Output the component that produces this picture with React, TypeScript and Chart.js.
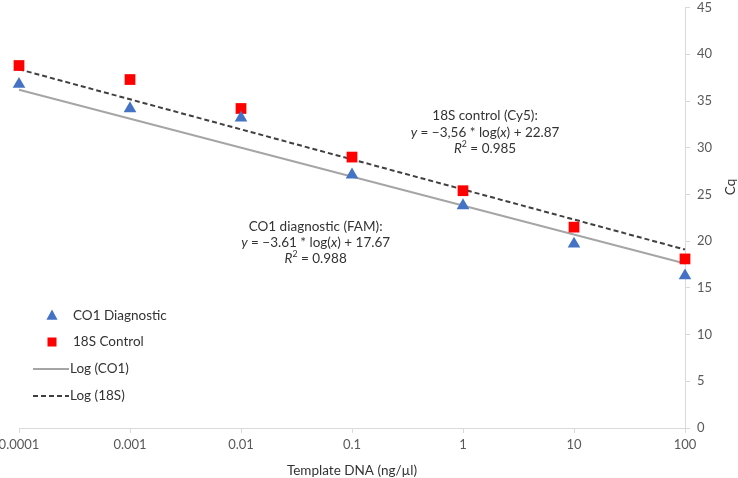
import React, { useEffect, useRef } from "react";
import { Chart, registerables } from "chart.js";

Chart.register(...registerables);

// ---- data ----
const concentrations = [0.0001, 0.001, 0.01, 0.1, 1, 10, 100];
const co1Cq = [36.8, 34.2, 33.2, 27.1, 23.8, 19.7, 16.3];
const s18Cq = [38.8, 37.3, 34.2, 29.0, 25.4, 21.5, 18.1];
const trendX = [0.0001, 100];
const co1Trend = [36.2, 17.6];
const s18Trend = [38.4, 19.1];
const xTickValues = [0.0001, 0.001, 0.01, 0.1, 1, 10, 100];
const xTickLabels = ["0.0001", "0.001", "0.01", "0.1", "1", "10", "100"];
const seriesNames = ["CO1 Diagnostic", "18S Control", "Log (CO1)", "Log (18S)"];

const annot18S = {
  title: "18S control (Cy5):",
  slope: "\u22123,56",
  intercept: "22.87",
  r2: "0.985",
};
const annotCO1 = {
  title: "CO1 diagnostic (FAM):",
  slope: "\u22123.61",
  intercept: "17.67",
  r2: "0.988",
};

const FONT = "Lato, 'Open Sans', sans-serif";
const TEXT = "#333333";
const TICK = "#595959";
const AXIS = "#d9d9d9";

type Seg = { t: string; italic?: boolean; sup?: boolean };

function drawRich(ctx: CanvasRenderingContext2D, segs: Seg[], cx: number, cy: number, size: number) {
  const fontFor = (s: Seg) =>
    `${s.italic ? "italic " : ""}${s.sup ? size * 0.65 : size}px ${FONT}`;
  let total = 0;
  segs.forEach((s) => {
    ctx.font = fontFor(s);
    total += ctx.measureText(s.t).width;
  });
  let x = cx - total / 2;
  ctx.textBaseline = "middle";
  ctx.textAlign = "left";
  segs.forEach((s) => {
    ctx.font = fontFor(s);
    ctx.fillText(s.t, x, s.sup ? cy - size * 0.35 : cy);
    x += ctx.measureText(s.t).width;
  });
}

function drawAnnotation(ctx: CanvasRenderingContext2D, a: typeof annot18S, cx: number, cy: number) {
  const size = 13.5;
  const lh = 16.3;
  ctx.fillStyle = TEXT;
  drawRich(ctx, [{ t: a.title }], cx, cy, size);
  drawRich(
    ctx,
    [
      { t: "y", italic: true },
      { t: ` = ${a.slope} * log(` },
      { t: "x", italic: true },
      { t: `) + ${a.intercept}` },
    ],
    cx,
    cy + lh,
    size
  );
  drawRich(
    ctx,
    [{ t: "R", italic: true }, { t: "2", sup: true }, { t: ` = ${a.r2}` }],
    cx,
    cy + 2 * lh,
    size
  );
}

const overlayPlugin = {
  id: "overlay",
  afterDraw(chart: any) {
    const ctx: CanvasRenderingContext2D = chart.ctx;
    const xs = chart.scales.x;
    const ys = chart.scales.y;
    ctx.save();
    // annotations anchored in data space
    drawAnnotation(ctx, annot18S, xs.getPixelForValue(1.58), ys.getPixelForValue(33.4));
    drawAnnotation(ctx, annotCO1, xs.getPixelForValue(0.047), ys.getPixelForValue(21.6));

    // legend
    const ds = chart.data.datasets;
    const lx = 52;
    const textX = 73;
    const rows = [316, 342, 369, 396];
    ctx.font = `13.5px ${FONT}`;
    ctx.textBaseline = "middle";
    ctx.textAlign = "left";
    rows.forEach((ry, i) => {
      const d = ds[i];
      if (i === 0) {
        const r = 6.4;
        ctx.fillStyle = d.backgroundColor;
        ctx.beginPath();
        ctx.moveTo(lx, ry - r);
        ctx.lineTo(lx + r * 0.87, ry + r * 0.6);
        ctx.lineTo(lx - r * 0.87, ry + r * 0.6);
        ctx.closePath();
        ctx.fill();
      } else if (i === 1) {
        ctx.fillStyle = d.backgroundColor;
        ctx.fillRect(lx - 4.5, ry - 4.5, 9, 9);
      } else {
        ctx.strokeStyle = d.borderColor;
        ctx.lineWidth = d.borderWidth;
        ctx.setLineDash(d.borderDash || []);
        ctx.beginPath();
        ctx.moveTo(33, ry);
        ctx.lineTo(69, ry);
        ctx.stroke();
        ctx.setLineDash([]);
      }
      ctx.fillStyle = TEXT;
      ctx.fillText(d.label, i >= 2 ? 70 : textX, ry);
    });

    // right axis title
    ctx.save();
    ctx.translate(731, 187);
    ctx.rotate(-Math.PI / 2);
    ctx.textAlign = "center";
    ctx.textBaseline = "middle";
    ctx.fillStyle = TEXT;
    ctx.font = `13.5px ${FONT}`;
    ctx.fillText("Cq", 0, 0);
    ctx.restore();
    ctx.restore();
  },
};

export default function App() {
  const ref = useRef<HTMLCanvasElement | null>(null);
  useEffect(() => {
    if (!ref.current) return;
    const chart = new Chart(ref.current, {
      type: "scatter",
      data: {
        datasets: [
          {
            label: seriesNames[0],
            data: concentrations.map((x, i) => ({ x, y: co1Cq[i] })),
            pointStyle: "triangle",
            pointRadius: 7.3,
            pointHoverRadius: 7.3,
            backgroundColor: "#4472C4",
            borderColor: "#4472C4",
            borderWidth: 0,
            showLine: false,
            clip: false,
          },
          {
            label: seriesNames[1],
            data: concentrations.map((x, i) => ({ x, y: s18Cq[i] })),
            pointStyle: "rect",
            pointRadius: 7.6,
            pointHoverRadius: 7.6,
            backgroundColor: "#FF0000",
            borderColor: "#FF0000",
            borderWidth: 0,
            showLine: false,
            clip: false,
          },
          {
            label: seriesNames[2],
            data: trendX.map((x, i) => ({ x, y: co1Trend[i] })),
            showLine: true,
            borderColor: "#A5A5A5",
            backgroundColor: "#A5A5A5",
            borderWidth: 2,
            pointRadius: 0,
            clip: false,
          },
          {
            label: seriesNames[3],
            data: trendX.map((x, i) => ({ x, y: s18Trend[i] })),
            showLine: true,
            borderColor: "#404040",
            backgroundColor: "#404040",
            borderWidth: 2,
            borderDash: [5, 3],
            pointRadius: 0,
            clip: false,
          },
        ],
      },
      options: {
        animation: false,
        responsive: false,
        maintainAspectRatio: false,
        layout: { padding: { left: 19, top: 5, right: 0, bottom: 0 } },
        plugins: {
          legend: { display: false },
          tooltip: { enabled: false },
        },
        scales: {
          x: {
            type: "logarithmic",
            position: "bottom",
            min: 0.0001,
            max: 100,
            afterBuildTicks: (scale: any) => {
              scale.ticks = xTickValues.map((v) => ({ value: v }));
            },
            afterFit: (scale: any) => {
              scale.height = 50;
              scale.paddingLeft = 0;
              scale.paddingRight = 0;
            },
            ticks: {
              autoSkip: false,
              maxRotation: 0,
              padding: 4,
              color: TICK,
              font: { family: FONT, size: 13 },
              callback: (v: any) => {
                const idx = xTickValues.findIndex((t) => Math.abs(t - v) / t < 1e-6);
                return idx >= 0 ? xTickLabels[idx] : "";
              },
            },
            grid: {
              display: true,
              drawOnChartArea: false,
              drawTicks: true,
              tickLength: 5,
              color: AXIS,
            },
            border: { display: true, color: AXIS, width: 1 },
            title: {
              display: true,
              text: "Template DNA (ng/\u00b5l)",
              color: TEXT,
              font: { family: FONT, size: 13.5 },
              padding: { top: 0, bottom: -1 },
            },
          },
          y: {
            type: "linear",
            position: "right",
            min: 0,
            max: 45,
            afterFit: (scale: any) => {
              scale.width = 53;
              scale.paddingTop = 0;
              scale.paddingBottom = 0;
            },
            ticks: {
              stepSize: 5,
              padding: 7,
              color: TICK,
              font: { family: FONT, size: 13 },
            },
            grid: {
              display: true,
              drawOnChartArea: false,
              drawTicks: true,
              tickLength: 5,
              color: AXIS,
            },
            border: { display: true, color: AXIS, width: 1 },
          },
        },
      },
      plugins: [overlayPlugin],
    });
    return () => chart.destroy();
  }, []);
  return (
    <div style={{ position: "fixed", left: 0, top: 0, width: 738, height: 478, background: "#fff" }}>
      <canvas ref={ref} width={738} height={478} style={{ width: 738, height: 478, display: "block" }} />
    </div>
  );
}
